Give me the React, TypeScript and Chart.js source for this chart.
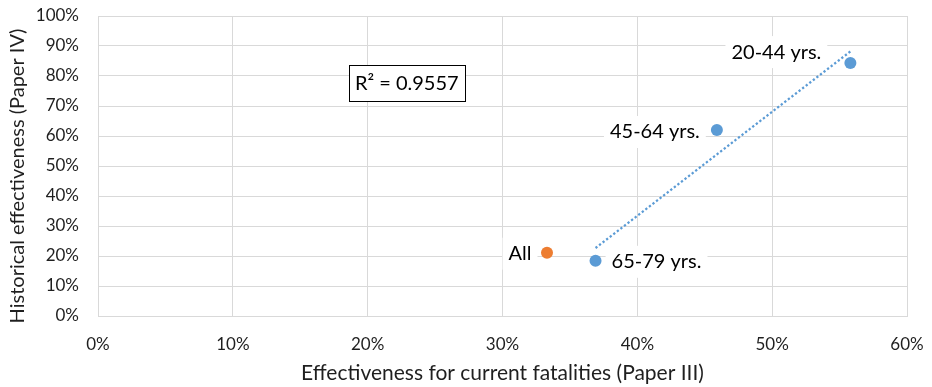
import React, { useEffect, useRef } from 'react';
import { Chart, registerables } from 'chart.js';

Chart.register(...registerables);

// Age-group estimates (percent)
const groupLabels = ['20-44 yrs.', '45-64 yrs.', '65-79 yrs.'];
const currentEff = [55.8, 45.9, 36.9];
const historicalEff = [84.3, 62.0, 18.4];

// Whole-population estimate (percent)
const allLabels = ['All'];
const allCurrent = [33.3];
const allHistorical = [21.1];

const xTicks = [0, 10, 20, 30, 40, 50, 60];
const yTicks = [0, 10, 20, 30, 40, 50, 60, 70, 80, 90, 100];

const rSquaredText = 'R² = 0.9557';

const BLUE = '#5b9bd5';
const ORANGE = '#ed7d31';
const GRID = '#d9d9d9';
const TEXT = '#1f1f1f';
const FONT = 'Lato, "Open Sans", sans-serif';

function fitLine(xs: number[], ys: number[]) {
  const n = xs.length;
  const mx = xs.reduce((a, b) => a + b, 0) / n;
  const my = ys.reduce((a, b) => a + b, 0) / n;
  let sxy = 0;
  let sxx = 0;
  for (let i = 0; i < n; i++) {
    sxy += (xs[i] - mx) * (ys[i] - my);
    sxx += (xs[i] - mx) * (xs[i] - mx);
  }
  const b = sxy / sxx;
  return { a: my - b * mx, b };
}

// Label placement relative to each marker (text centre offset in px)
const groupLabelOffsets = [
  { dx: -74, dy: -11 },
  { dx: -62, dy: 2 },
  { dx: 61, dy: 1 },
];
const allLabelOffsets = [{ dx: -27, dy: 1 }];

const pointLabelsPlugin = {
  id: 'pointLabels',
  beforeDatasetsDraw(chart: any) {
    const ctx = chart.ctx as CanvasRenderingContext2D;
    ctx.save();
    ctx.font = `20px ${FONT}`;
    ctx.textAlign = 'center';
    ctx.textBaseline = 'middle';
    const drawLabel = (text: string, x: number, y: number) => {
      const w = ctx.measureText(text).width;
      ctx.fillStyle = '#ffffff';
      ctx.fillRect(x - w / 2 - 6, y - 16, w + 12, 32);
      ctx.fillStyle = '#000000';
      ctx.fillText(text, x, y);
    };
    const groupMeta = chart.getDatasetMeta(0);
    groupMeta.data.forEach((el: any, i: number) => {
      const o = groupLabelOffsets[i];
      drawLabel(groupLabels[i], el.x + o.dx, el.y + o.dy);
    });
    const allMeta = chart.getDatasetMeta(1);
    allMeta.data.forEach((el: any, i: number) => {
      const o = allLabelOffsets[i];
      drawLabel(allLabels[i], el.x + o.dx, el.y + o.dy);
    });
    ctx.restore();
  },
  afterDraw(chart: any) {
    const ctx = chart.ctx as CanvasRenderingContext2D;
    const { x, y } = chart.scales;
    ctx.save();
    // R² annotation box
    ctx.font = `20px ${FONT}`;
    ctx.textAlign = 'center';
    ctx.textBaseline = 'middle';
    const cx = x.getPixelForValue(22.9);
    const cy = y.getPixelForValue(77.7);
    const w = ctx.measureText(rSquaredText).width + 12;
    const h = 36;
    ctx.fillStyle = '#ffffff';
    ctx.fillRect(Math.round(cx - w / 2) + 0.5, Math.round(cy - h / 2) + 0.5, Math.round(w), h);
    ctx.strokeStyle = '#000000';
    ctx.lineWidth = 1;
    ctx.strokeRect(Math.round(cx - w / 2) + 0.5, Math.round(cy - h / 2) + 0.5, Math.round(w), h);
    ctx.fillStyle = '#000000';
    ctx.fillText(rSquaredText, cx, cy + 1);

    // Vertical axis title
    ctx.font = `20px ${FONT}`;
    ctx.fillStyle = TEXT;
    ctx.translate(18, (chart.chartArea.top + chart.chartArea.bottom) / 2 + 10);
    ctx.rotate(-Math.PI / 2);
    ctx.fillText('Historical effectiveness (Paper IV)', 0, 0);
    ctx.restore();
  },
};

export default function App() {
  const ref = useRef<HTMLCanvasElement>(null);

  useEffect(() => {
    document.body.style.margin = '0';
    const canvas = ref.current;
    if (!canvas) return;

    const trend = fitLine(currentEff, historicalEff);
    const trendX = [Math.min(...currentEff), Math.max(...currentEff)];

    const chart = new Chart(canvas, {
      type: 'scatter',
      data: {
        datasets: [
          {
            label: 'Age groups',
            data: currentEff.map((v, i) => ({ x: v, y: historicalEff[i] })),
            backgroundColor: BLUE,
            borderColor: BLUE,
            pointRadius: 6,
            pointHoverRadius: 6,
            borderWidth: 0,
            order: 1,
          },
          {
            label: 'All',
            data: allCurrent.map((v, i) => ({ x: v, y: allHistorical[i] })),
            backgroundColor: ORANGE,
            borderColor: ORANGE,
            pointRadius: 6,
            pointHoverRadius: 6,
            borderWidth: 0,
            order: 1,
          },
          {
            label: 'Linear (Age groups)',
            data: trendX.map((v) => ({ x: v, y: trend.a + trend.b * v })),
            showLine: true,
            borderColor: BLUE,
            borderWidth: 2.25,
            borderDash: [2.25, 2.25],
            pointRadius: 0,
            order: 3,
          },
        ],
      },
      options: {
        animation: false,
        responsive: false,
        layout: { padding: { top: 16, right: 25, left: 0, bottom: 0 } },
        plugins: {
          legend: { display: false },
          tooltip: { enabled: false },
        },
        scales: {
          x: {
            type: 'linear',
            min: xTicks[0],
            max: xTicks[xTicks.length - 1],
            afterBuildTicks: (s: any) => {
              s.ticks = xTicks.map((v) => ({ value: v }));
            },
            ticks: {
              callback: (v: any) => `${v}%`,
              padding: 18,
              color: TEXT,
              font: { family: FONT, size: 17 },
              maxRotation: 0,
            },
            grid: { color: GRID, drawTicks: false },
            border: { color: GRID },
            title: {
              display: true,
              text: 'Effectiveness for current fatalities (Paper III)',
              color: TEXT,
              font: { family: FONT, size: 21 },
              padding: { top: 0, bottom: 1 },
            },
            afterFit: (s: any) => {
              s.height = 71;
              s.paddingLeft = 0;
              s.paddingRight = 0;
            },
          },
          y: {
            type: 'linear',
            min: yTicks[0],
            max: yTicks[yTicks.length - 1],
            afterBuildTicks: (s: any) => {
              s.ticks = yTicks.map((v) => ({ value: v }));
            },
            ticks: {
              callback: (v: any) => `${v}%`,
              padding: 19,
              color: TEXT,
              font: { family: FONT, size: 17 },
            },
            grid: { color: GRID, drawTicks: false },
            border: { color: GRID },
            afterFit: (s: any) => {
              s.width = 98;
              s.paddingTop = 0;
              s.paddingBottom = 0;
            },
          },
        },
      },
      plugins: [pointLabelsPlugin],
    });

    return () => chart.destroy();
  }, []);

  return <canvas ref={ref} width={932} height={387} style={{ display: 'block' }} />;
}
